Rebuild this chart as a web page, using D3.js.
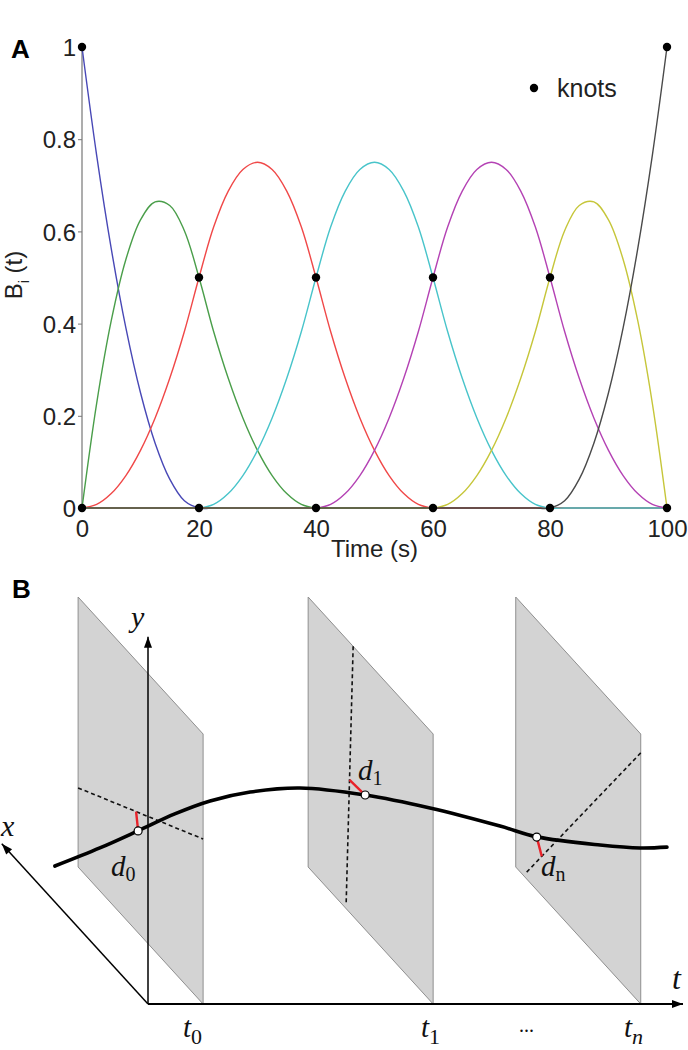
<!DOCTYPE html>
<html><head><meta charset="utf-8">
<script src="https://cdn.jsdelivr.net/npm/d3@7"></script>
<style>body{margin:0;background:#fff}svg{display:block}</style>
</head><body><svg id="c" width="688" height="1050"></svg>
<script>
// ---------- Panel A data ----------
const time = [0,2.5,5,7.5,10,12.5,15,17.5,20,22.5,25,27.5,30,32.5,35,37.5,40,42.5,45,47.5,50,52.5,55,57.5,60,62.5,65,67.5,70,72.5,75,77.5,80,82.5,85,87.5,90,92.5,95,97.5,100];
const bBlue = [1,.7656,.5625,.3906,.25,.1406,.0625,.0156,0, 0,0,0,0,0,0,0,0,0,0,0,0,0,0,0,0,0,0,0,0,0,0,0,0,0,0,0,0,0,0,0,0];
const bGreen = [0,.2266,.4063,.5391,.625,.6641,.6563,.6016,.5,.3828,.2813,.1953,.125,.0703,.0313,.0078,0, 0,0,0,0,0,0,0,0,0,0,0,0,0,0,0,0,0,0,0,0,0,0,0,0];
const bRed = [0,.0078,.0313,.0703,.125,.1953,.2813,.3828,.5,.6094,.6875,.7344,.75,.7344,.6875,.6094,.5,.3828,.2813,.1953,.125,.0703,.0313,.0078,0, 0,0,0,0,0,0,0,0,0,0,0,0,0,0,0,0];
const bCyan = [0,0,0,0,0,0,0,0, 0,.0078,.0313,.0703,.125,.1953,.2813,.3828,.5,.6094,.6875,.7344,.75,.7344,.6875,.6094,.5,.3828,.2813,.1953,.125,.0703,.0313,.0078,0, 0,0,0,0,0,0,0,0];
const bMagenta = [0,0,0,0,0,0,0,0,0,0,0,0,0,0,0,0, 0,.0078,.0313,.0703,.125,.1953,.2813,.3828,.5,.6094,.6875,.7344,.75,.7344,.6875,.6094,.5,.3828,.2813,.1953,.125,.0703,.0313,.0078,0];
const bYellow = [0,0,0,0,0,0,0,0,0,0,0,0,0,0,0,0,0,0,0,0,0,0,0,0, 0,.0078,.0313,.0703,.125,.1953,.2813,.3828,.5,.6016,.6563,.6641,.625,.5391,.4063,.2266,0];
const bBlack = [0,0,0,0,0,0,0,0,0,0,0,0,0,0,0,0,0,0,0,0,0,0,0,0,0,0,0,0,0,0,0,0, 0,.0156,.0625,.1406,.25,.3906,.5625,.7656,1];
const seriesColors = ["#4848b6","#4a9e4a","#f04848","#48c4ca","#b442b4","#c6c63a","#4a4a4a"];
const knotX = [0,0,20,40,60,80,20,40,60,80,100,100];
const knotY = [1,0,.5,.5,.5,.5,0,0,0,0,0,1];
const xTicks = [0,20,40,60,80,100];
const yTicks = [0,0.2,0.4,0.6,0.8,1];
const yTickLabels = ["0","0.2","0.4","0.6","0.8","1"];

// ---------- Panel B data ----------
const planeT = [10.3, 53.3, 92.1];
const planeCorners = [[0,0],[1,0],[1,1],[0,1]]; // [depth, height]
const planeDash = [[[1,0.293],[0,0.611]], [[0.64,1.0],[0.696,0.02]], [[0,0.93],[0.928,0.01]]];
const dataDots = [[0.52,0.377],[0.544,0.498],[0.832,0.196]];
const footFrac = [0.464, 0.52, 0.853];
const curveT = [-17.4,-9.0,-1.9,5.0,11.6,19.1,28.4,40.6,52.7,65.8,72.7,84.5,92.0,97.0];
const curveH = [0.511,0.578,0.641,0.704,0.752,0.785,0.800,0.774,0.726,0.659,0.619,0.589,0.578,0.581];
const dLabels = [["d","0"],["d","1"],["d","n"]];
const tLabels = [["t","0"],["t","1"],["t","n"]];

const svg = d3.select("#c");
const sans = "'Liberation Sans', Arial, Helvetica, sans-serif";
const serif = "'Liberation Serif', 'Times New Roman', serif";

// ================= Panel A =================
const x = d3.scaleLinear().domain([0,100]).range([82,667]);
const y = d3.scaleLinear().domain([0,1]).range([508,47]);
const gA = svg.append("g");

gA.append("text").attr("x",11).attr("y",58).attr("font-family",sans).attr("font-weight","bold")
  .attr("font-size",26).text("A");

// x baseline
gA.append("line").attr("x1",x(0)).attr("x2",x(100)).attr("y1",y(0)).attr("y2",y(0))
  .attr("stroke","#888").attr("stroke-width",1.2);
// y axis
const yAxis = d3.axisLeft(y).tickValues(yTicks).tickFormat((d,i)=>yTickLabels[i]).tickSize(4).tickPadding(2);
const gy = gA.append("g").attr("transform",`translate(${x(0)},0)`).call(yAxis);
gy.select(".domain").attr("stroke","#777").attr("stroke-width",1.2).attr("d",`M-4,${y(1)}H0V${y(0)}H-4`);
gy.selectAll(".tick line").attr("stroke","#777");
gy.selectAll(".tick text").attr("font-family",sans).attr("font-size",24).attr("fill","#222").attr("dy","0.36em");
// x tick labels
const xAxis = d3.axisBottom(x).tickValues(xTicks).tickSize(0).tickPadding(12);
const gx = gA.append("g").attr("transform",`translate(0,${y(0)})`).call(xAxis);
gx.select(".domain").remove();
gx.selectAll(".tick text").attr("font-family",sans).attr("font-size",24).attr("fill","#222");

const allSeries = [bBlue,bGreen,bRed,bCyan,bMagenta,bYellow,bBlack];
const line = d3.line().x((d,i)=>x(time[i])).y(d=>y(d)).curve(d3.curveCatmullRom.alpha(0.5));
allSeries.forEach((s,k)=>{
  gA.append("path").attr("d",line(s)).attr("fill","none").attr("stroke",seriesColors[k]).attr("stroke-width",1.4);
});
gA.selectAll("circle.knot").data(knotX).enter().append("circle").attr("class","knot")
  .attr("cx",(d)=>x(d)).attr("cy",(d,i)=>y(knotY[i])).attr("r",4.2).attr("fill","#000");

// legend
gA.append("circle").attr("cx",534).attr("cy",88).attr("r",4.2).attr("fill","#000");
gA.append("text").attr("x",557).attr("y",97).attr("font-family",sans).attr("font-size",25).attr("fill","#222").text("knots");
// axis labels
gA.append("text").attr("x",x(50)).attr("y",557).attr("text-anchor","middle").attr("font-family",sans)
  .attr("font-size",24).attr("fill","#222").text("Time (s)");
const yl = gA.append("text").attr("transform","translate(22,275) rotate(-90)").attr("text-anchor","middle")
  .attr("font-family",sans).attr("font-size",24).attr("fill","#222");
yl.append("tspan").text("B");
yl.append("tspan").attr("font-size",14).attr("dy",7).text("i");
yl.append("tspan").attr("dy",-7).text(" (t)");

// ================= Panel B =================
const gB = svg.append("g");
gB.append("text").attr("x",12).attr("y",598).attr("font-family",sans).attr("font-weight","bold")
  .attr("font-size",26).text("B");

const tS = d3.scaleLinear().domain([0,100]).range([148,683]);
const hS = d3.scaleLinear().domain([0,1]).range([1004,734]);
const dX = d3.scaleLinear().domain([0,1]).range([0,-125]);
const dY = d3.scaleLinear().domain([0,1]).range([0,-137]);
const proj = (t,d,h)=>[tS(t)+dX(d), hS(h)+dY(d)];

// planes
planeT.forEach(t=>{
  gB.append("path").attr("d", d3.line()(planeCorners.map(c=>proj(t,c[0],c[1])))+"Z")
    .attr("fill","#d3d3d3").attr("stroke","#8f8f8f").attr("stroke-width",1);
});
// dashed lines
planeDash.forEach((seg,i)=>{
  const a = proj(planeT[i],seg[0][0],seg[0][1]), b = proj(planeT[i],seg[1][0],seg[1][1]);
  gB.append("line").attr("x1",a[0]).attr("y1",a[1]).attr("x2",b[0]).attr("y2",b[1])
    .attr("stroke","#111").attr("stroke-width",1.6).attr("stroke-dasharray","4,3");
});

// axes
function arrow(x1,y1,x2,y2,w){
  gB.append("line").attr("x1",x1).attr("y1",y1).attr("x2",x2).attr("y2",y2).attr("stroke","#000").attr("stroke-width",w);
  const ang = Math.atan2(y2-y1,x2-x1), L=11, H=4;
  const p = [[x2,y2],[x2-L*Math.cos(ang)+H*Math.sin(ang), y2-L*Math.sin(ang)-H*Math.cos(ang)],
             [x2-L*Math.cos(ang)-H*Math.sin(ang), y2-L*Math.sin(ang)+H*Math.cos(ang)]];
  gB.append("path").attr("d",d3.line()(p)+"Z").attr("fill","#000");
}
const o = proj(0,0,0);
const yTip = proj(0,0,1.36), xTip = proj(0,1.17,0), tTip = proj(100,0,0);
arrow(o[0],o[1],yTip[0],yTip[1],1.5);
arrow(o[0],o[1],xTip[0],xTip[1],1.5);
arrow(o[0],o[1],tTip[0],tTip[1],2.2);

// curve
const cLine = d3.line().x((d,i)=>tS(curveT[i])).y(d=>hS(d)).curve(d3.curveCatmullRom.alpha(0.5));
gB.append("path").attr("d",cLine(curveH)).attr("fill","none").attr("stroke","#000").attr("stroke-width",3.6)
  .attr("stroke-linecap","round");

// red distances and dots
dataDots.forEach((p,i)=>{
  const seg = planeDash[i];
  const f = footFrac[i];
  const a = proj(planeT[i],seg[0][0],seg[0][1]), b = proj(planeT[i],seg[1][0],seg[1][1]);
  const foot = [a[0]+(b[0]-a[0])*f, a[1]+(b[1]-a[1])*f];
  const c = proj(planeT[i],p[0],p[1]);
  gB.append("line").attr("x1",c[0]).attr("y1",c[1]).attr("x2",foot[0]).attr("y2",foot[1])
    .attr("stroke","#e8222a").attr("stroke-width",2.4);
  gB.append("circle").attr("cx",c[0]).attr("cy",c[1]).attr("r",4).attr("fill","#fff").attr("stroke","#000").attr("stroke-width",1.2);
});

// labels
function subLabel(xp,yp,main,sub,fs,sfs,dy,italicSub){
  const t = gB.append("text").attr("x",xp).attr("y",yp).attr("font-family",serif).attr("font-size",fs).attr("fill","#111");
  t.append("tspan").attr("font-style","italic").text(main);
  t.append("tspan").attr("font-size",sfs).attr("dy",dy).attr("font-style",italicSub?"italic":"normal").text(sub);
}
const dPos = [[111,876],[358,780],[541,876]];
dLabels.forEach((l,i)=>subLabel(dPos[i][0],dPos[i][1],l[0],l[1],29,20,5,false));
const tPos = [[183,1037],[421,1037],[624,1037]];
tLabels.forEach((l,i)=>subLabel(tPos[i][0],tPos[i][1],l[0],l[1],29,22,7,i===2));
gB.append("text").attr("x",519).attr("y",1032).attr("font-family",serif).attr("font-size",20).attr("fill","#111").text("...");
gB.append("text").attr("x",131).attr("y",627).attr("font-family",serif).attr("font-style","italic").attr("font-size",30).attr("fill","#111").text("y");
gB.append("text").attr("x",1).attr("y",836).attr("font-family",serif).attr("font-style","italic").attr("font-size",30).attr("fill","#111").text("x");
gB.append("text").attr("x",672).attr("y",989).attr("font-family",serif).attr("font-style","italic").attr("font-size",32).attr("fill","#111").text("t");
</script></body></html>
